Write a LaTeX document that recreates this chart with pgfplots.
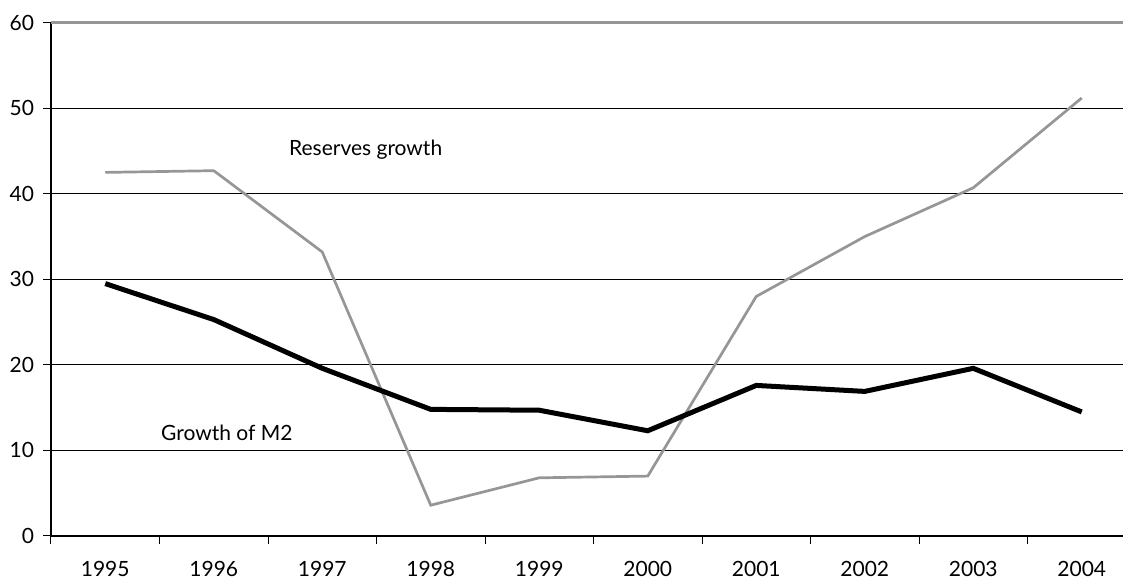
\documentclass[border=0pt]{standalone}
\usepackage{fontspec}
\setmainfont{Lato}
\usepackage{pgfplots}
\pgfplotsset{compat=1.18}
\definecolor{resgray}{RGB}{150,150,150}

\begin{document}
\begin{tikzpicture}
  \useasboundingbox (-25.5pt,-22.5pt) rectangle (536pt,268pt);
  \begin{axis}[
    at={(0,0)}, anchor=south west,
    scale only axis, width=542.5pt, height=256.65pt,
    xmin=-0.5, xmax=9.5, ymin=0, ymax=60,
    axis x line=bottom, axis y line=left,
    axis line style={-, black, line width=0.7pt},
    xtick={0,...,9},
    xticklabels={1995,1996,1997,1998,1999,2000,2001,2002,2003,2004},
    minor xtick={-0.5,0.5,...,9.5},
    major x tick style={draw=none},
    minor x tick style={black, line width=0.5pt},
    ytick={0,10,...,50},
    extra y ticks={60},
    extra y tick style={grid style={resgray, line width=1.3pt}},
    ymajorgrids, grid style={black, line width=0.5pt},
    tick align=outside, major tick length=4pt, minor tick length=4pt,
    y tick style={black, line width=0.5pt},
    xticklabel style={yshift=-5pt},
    yticklabel style={xshift=-1pt},
    tick label style={font=\fontsize{10.5}{12}\selectfont},
    /pgf/number format/assume math mode=true,
    clip=false,
  ]
    \addplot[resgray, line width=1.35pt] coordinates {
      (0,42.5) (1,42.7) (2,33.2) (3,3.6) (4,6.8) (5,7.0) (6,28.0) (7,35.0) (8,40.7) (9,51.2)};
    \addplot[black, line width=2.5pt] coordinates {
      (0,29.5) (1,25.3) (2,19.6) (3,14.8) (4,14.7) (5,12.3) (6,17.6) (7,16.9) (8,19.6) (9,14.5)};
    \node[font=\fontsize{10.5}{12}\selectfont] at (axis cs:2.4,45.1) {Reserves growth};
    \node[font=\fontsize{10.5}{12}\selectfont] at (axis cs:1.12,12.0) {Growth of M2};
  \end{axis}
\end{tikzpicture}
\end{document}
